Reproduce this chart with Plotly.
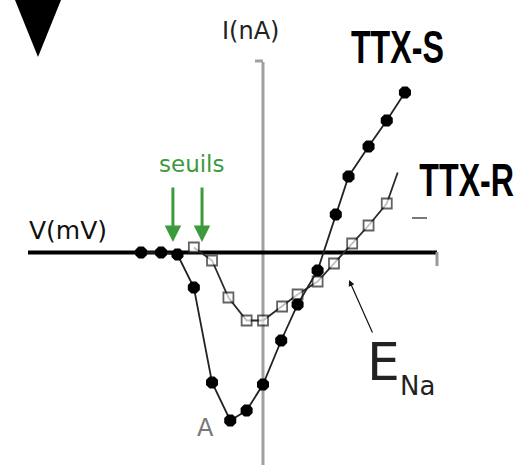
import plotly.graph_objects as go

# ---- data (V in mV, I in nA) ----
v_ttxs = [-67, -56, -47, -38, -28, -18, -9, 0, 10, 19, 30, 40, 47, 58, 68, 78]
i_ttxs = [0.0, 0.0, -0.1, -1.75, -6.5, -8.4, -7.9, -6.6, -4.4, -2.6, -0.9, 1.9, 3.8, 5.3, 6.6, 8.0]

v_ttxr = [-38, -28, -19, -9, 0, 10.5, 19, 30, 39, 49, 58, 68, 74]
i_ttxr = [0.25, -0.4, -2.25, -3.4, -3.4, -2.7, -2.1, -1.45, -0.55, 0.45, 1.35, 2.45, 4.0]
ttxr_marker_shown = [1] * 12 + [0]

seuils_v = [-49.5, -33.5]
e_na_v = 47.3

PX_PER_MV = 1.82
PX_PER_NA = 20.0
W, H = 528, 465
X0, Y0 = 263, 252.5  # pixel position of origin

def vx(px):
    return (px - X0) / PX_PER_MV

def iy(py):
    return (Y0 - py) / PX_PER_NA

fig = go.Figure()

fig.add_trace(go.Scatter(
    x=v_ttxr, y=i_ttxr, mode="lines+markers",
    line=dict(color="#2a2a2a", width=1.8),
    marker=dict(symbol="square", size=[10 * s for s in ttxr_marker_shown], color="white",
                line=dict(color="#222", width=1.8)),
    showlegend=False, hoverinfo="skip"))

fig.add_trace(go.Scatter(
    x=v_ttxs, y=i_ttxs, mode="lines+markers",
    line=dict(color="#222", width=1.8),
    marker=dict(symbol="octagon", size=13, color="black"),
    showlegend=False, hoverinfo="skip"))

shapes = [
    # vertical I axis
    dict(type="line", x0=0, x1=0, y0=iy(62), y1=iy(470), line=dict(color="#a0a0a0", width=3), layer="below"),
    dict(type="line", x0=vx(255), x1=vx(263), y0=iy(61), y1=iy(61), line=dict(color="#a0a0a0", width=3), layer="below"),
    # horizontal V axis
    dict(type="line", x0=vx(28), x1=vx(437), y0=0, y1=0, line=dict(color="black", width=4), layer="below"),
    dict(type="line", x0=vx(437), x1=vx(437), y0=iy(252), y1=iy(266), line=dict(color="#999", width=3), layer="below"),
    # small dash under TTX-R
    dict(type="line", x0=vx(412), x1=vx(427), y0=iy(218), y1=iy(218), line=dict(color="#777", width=2), layer="below"),
    # black triangle top-left
    dict(type="path", xref="paper", yref="paper",
         path=f"M {15/W},1 L {61/W},1 L {38/W},{1-57/H} Z",
         fillcolor="black", line=dict(color="black", width=0)),
]

comic = "DejaVu Sans"
bold_font = "Liberation Sans"

annotations = [
    dict(x=vx(250), y=iy(31), text="I(nA)", showarrow=False, font=dict(family=comic, size=24, color="#222")),
    dict(x=vx(68), y=iy(230), text="V(mV)", showarrow=False, font=dict(family=comic, size=25, color="#111")),
    dict(x=vx(397), y=iy(47), text="<b>TTX-S</b>", showarrow=False, font=dict(family=bold_font, size=46, color="black")),
    dict(x=vx(466), y=iy(180), text="<b>TTX-R</b>", showarrow=False, font=dict(family=bold_font, size=46, color="black")),
    dict(x=vx(191), y=iy(164), text="seuils", showarrow=False, font=dict(family=comic, size=23, color="#3c9a3c")),
    dict(x=vx(205), y=iy(428), text="A", showarrow=False, font=dict(family=comic, size=24, color="#777")),
    dict(x=vx(383), y=iy(362), text="E", showarrow=False, font=dict(family=comic, size=52, color="#222")),
    dict(x=vx(417), y=iy(386), text="Na", showarrow=False, font=dict(family=comic, size=26, color="#222")),
    dict(x=e_na_v, y=iy(280), ax=24, ay=54, text="", showarrow=True, arrowhead=2, arrowsize=1,
         arrowwidth=1.2, arrowcolor="#111"),
]
for v in seuils_v:
    annotations.append(dict(x=v, y=iy(242), ax=0, ay=-56, text="", showarrow=True, arrowhead=2,
                            arrowsize=1.1, arrowwidth=3, arrowcolor="#3c9a3c"))

fig.update_layout(
    width=W, height=H, margin=dict(l=0, r=0, t=0, b=0),
    paper_bgcolor="white", plot_bgcolor="white",
    xaxis=dict(range=[vx(0), vx(W)], visible=False, fixedrange=True),
    yaxis=dict(range=[iy(H), iy(0)], visible=False, fixedrange=True),
    shapes=shapes, annotations=annotations,
)

# condense the bold TTX labels horizontally (they are narrow in the reference)
post = """
document.body.style.margin = '0';
document.querySelectorAll('g.annotation text').forEach(function(t){
  var s = t.textContent;
  if (s === 'TTX-S' || s === 'TTX-R') {
    var b = t.getBBox();
    var cx = b.x + b.width / 2;
    t.setAttribute('transform', 'translate(' + cx + ',0) scale(0.7,1) translate(' + (-cx) + ',0)');
  }
});
"""

fig.write_html("out.html", config={"displayModeBar": False}, post_script=post)

with open("out.html", "r", encoding="utf-8") as f:
    html = f.read()
html = html.replace("<head>", "<head><style>html,body{margin:0;padding:0;overflow:hidden;}</style>", 1)
with open("out.html", "w", encoding="utf-8") as f:
    f.write(html)
